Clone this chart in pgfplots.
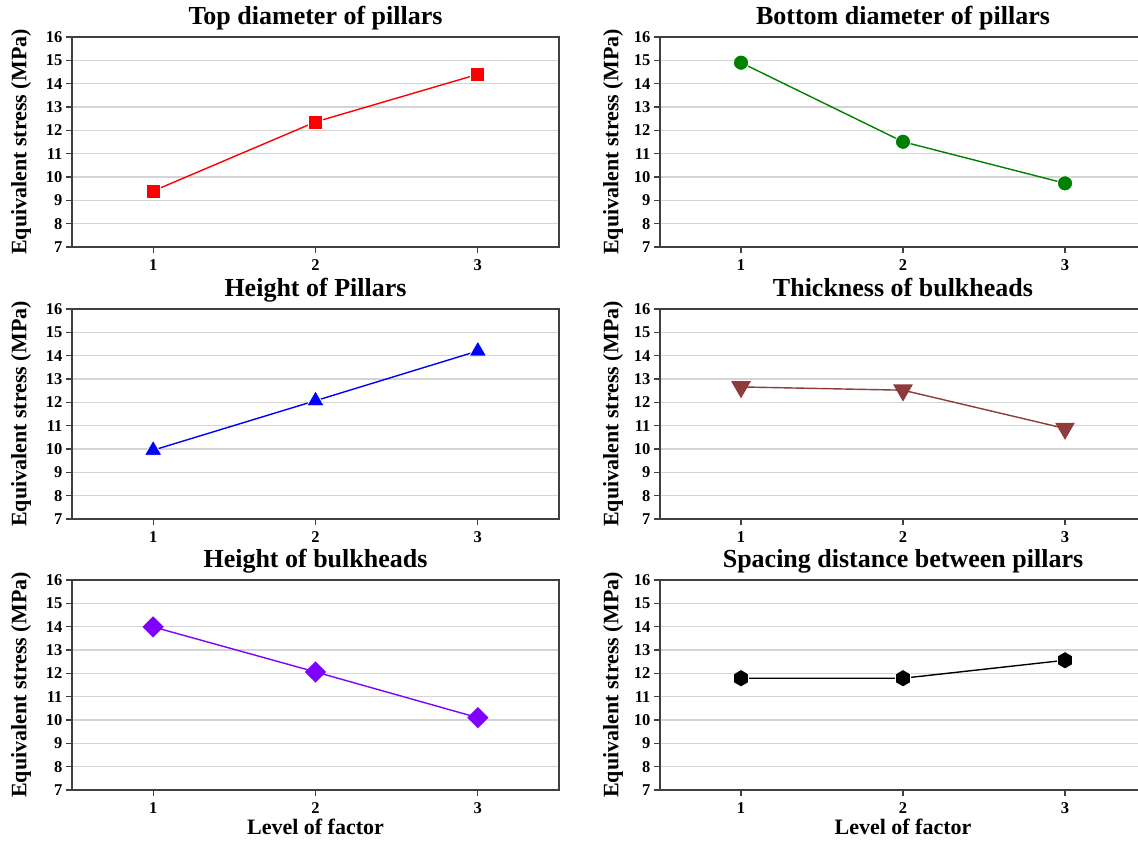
\documentclass[border=0pt]{standalone}
\usepackage{fontspec}
\setmainfont{Liberation Serif}
\usepackage{pgfplots}
\pgfplotsset{compat=1.18}
\definecolor{axgray}{HTML}{404040}
\definecolor{gridgray}{HTML}{D4D4D4}
\definecolor{mred}{HTML}{FF0000}
\definecolor{mgreen}{HTML}{008000}
\definecolor{mblue}{HTML}{0000FF}
\definecolor{mbrown}{HTML}{8E3B3B}
\definecolor{mviolet}{HTML}{8000FF}
\pgfdeclareplotmark{hexagon*}{%
  \pgfpathmoveto{\pgfqpointpolar{90}{\pgfplotmarksize}}%
  \pgfpathlineto{\pgfqpointpolar{150}{\pgfplotmarksize}}%
  \pgfpathlineto{\pgfqpointpolar{210}{\pgfplotmarksize}}%
  \pgfpathlineto{\pgfqpointpolar{270}{\pgfplotmarksize}}%
  \pgfpathlineto{\pgfqpointpolar{330}{\pgfplotmarksize}}%
  \pgfpathlineto{\pgfqpointpolar{30}{\pgfplotmarksize}}%
  \pgfpathclose
  \pgfusepathqfillstroke}
\pgfplotsset{
  panel/.style={
    scale only axis, height=210pt,
    xmin=0.5, xmax=3.5, ymin=7, ymax=16,
    xtick={1,2,3}, ytick={7,8,...,16},
    tick pos=left, tick align=outside, major tick length=6pt,
    ymajorgrids, grid style={line width=1.3pt, color=gridgray},
    axis line style={line width=1.3pt, color=axgray},
    tick style={line width=1.2pt, color=axgray},
    /pgf/number format/assume math mode=true,
    tick label style={font=\bfseries\fontsize{16.5}{16.5}\selectfont, text=black},
    xticklabel style={yshift=-3pt},
    title style={font=\bfseries\fontsize{26}{26}\selectfont, at={(axis description cs:0.5,1)}, anchor=base, yshift=6.5pt, inner sep=0pt},
    ylabel={Equivalent stress (MPa)},
    xlabel style={font=\bfseries\fontsize{22}{22}\selectfont, at={(axis description cs:0.5,0)}, anchor=base, yshift=-45pt, inner sep=0pt},
    clip=false,
  },
  panelL/.style={panel, width=487pt,
    ylabel style={font=\bfseries\fontsize{22}{22}\selectfont, at={(axis description cs:-0.1047,0.5)}, anchor=center, inner sep=0pt}},
  panelR/.style={panel, width=486pt,
    ylabel style={font=\bfseries\fontsize{22}{22}\selectfont, at={(axis description cs:-0.0967,0.5)}, anchor=center, inner sep=0pt}},
  ser/.style={line width=1.4pt, color=#1, mark options={fill=#1, draw=white, line width=0.8pt}},
}
\begin{document}
\begin{tikzpicture}
\useasboundingbox (0,0) rectangle (1138pt,843pt);
% Row 1
\begin{axis}[panelL, anchor=south west, at={(72pt,596pt)}, title={Top diameter of pillars}]
\addplot[ser=mred, mark=square*, mark size=7pt] coordinates {(1,9.4) (2,12.36) (3,14.4)};
\end{axis}
\begin{axis}[panelR, anchor=south west, at={(660pt,596pt)}, title={Bottom diameter of pillars}]
\addplot[ser=mgreen, mark=*, mark size=7.6pt] coordinates {(1,14.9) (2,11.51) (3,9.73)};
\end{axis}
% Row 2
\begin{axis}[panelL, anchor=south west, at={(72pt,324pt)}, title={Height of Pillars}]
\addplot[ser=mblue, mark=triangle*, mark size=10pt] coordinates {(1,9.95) (2,12.07) (3,14.2)};
\end{axis}
\begin{axis}[panelR, anchor=south west, at={(660pt,324pt)}, title={Thickness of bulkheads}]
\addplot[ser=mbrown, mark=triangle*, mark size=10pt, mark options={rotate=180}] coordinates {(1,12.66) (2,12.52) (3,10.88)};
\end{axis}
% Row 3
\begin{axis}[panelL, anchor=south west, at={(72pt,53pt)}, title={Height of bulkheads}, xlabel={Level of factor}]
\addplot[ser=mviolet, mark=square*, mark size=6.8pt, mark options={rotate=45}] coordinates {(1,13.99) (2,12.06) (3,10.1)};
\end{axis}
\begin{axis}[panelR, anchor=south west, at={(660pt,53pt)}, title={Spacing distance between pillars}, xlabel={Level of factor}]
\addplot[ser=black, mark=hexagon*, mark size=8.7pt] coordinates {(1,11.79) (2,11.79) (3,12.56)};
\end{axis}
\end{tikzpicture}
\end{document}
